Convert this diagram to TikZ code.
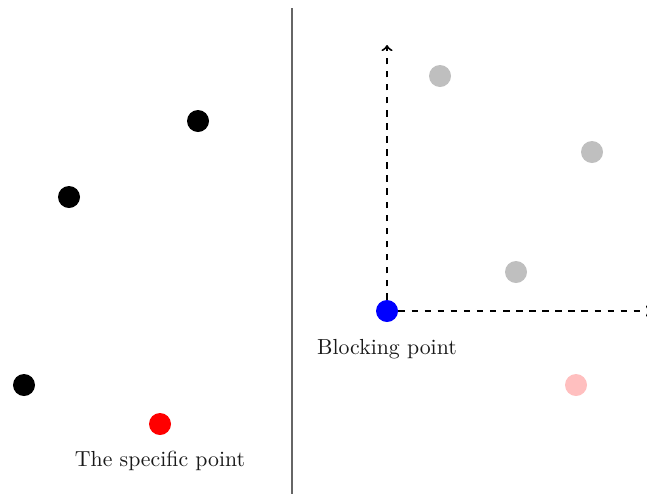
\documentclass[tikz,border=0pt]{standalone}
\begin{document}
\begin{tikzpicture}[x=0.459pt,y=-0.459pt,
  dot/.style={circle,inner sep=0pt,minimum size=10.1pt},
  axis/.style={->,dashed,line width=0.9pt},
  lbl/.style={font=\normalsize,text=black!90}]
\useasboundingbox (0,0) rectangle (647,494);
% separator
\draw[black!60,line width=0.8pt] (292,8) -- (292,494);
% left half
\node[dot,fill=black] (a1) at (198,121) {};
\node[dot,fill=black] (a2) at (69,197) {};
\node[dot,fill=black] (a3) at (24,385) {};
\node[dot,fill=red] (sp) at (160,424) {};
\node[lbl] (splbl) at (160,461) {The specific point};
% right half
\coordinate (yend) at (387,45);
\coordinate (xend) at (652,311);
\node[dot,fill=blue] (bp) at (387,311) {};
\draw[axis] (bp) -- (yend);
\draw[axis] (bp) -- (xend);
\node[dot,fill=black!25] (b1) at (440,76) {};
\node[dot,fill=black!25] (b2) at (592,152) {};
\node[dot,fill=black!25] (b3) at (516,272) {};
\node[dot,fill=red!25] (b4) at (576,385) {};
\node[lbl] (bplbl) at (387,349) {Blocking point};
\end{tikzpicture}
\end{document}
